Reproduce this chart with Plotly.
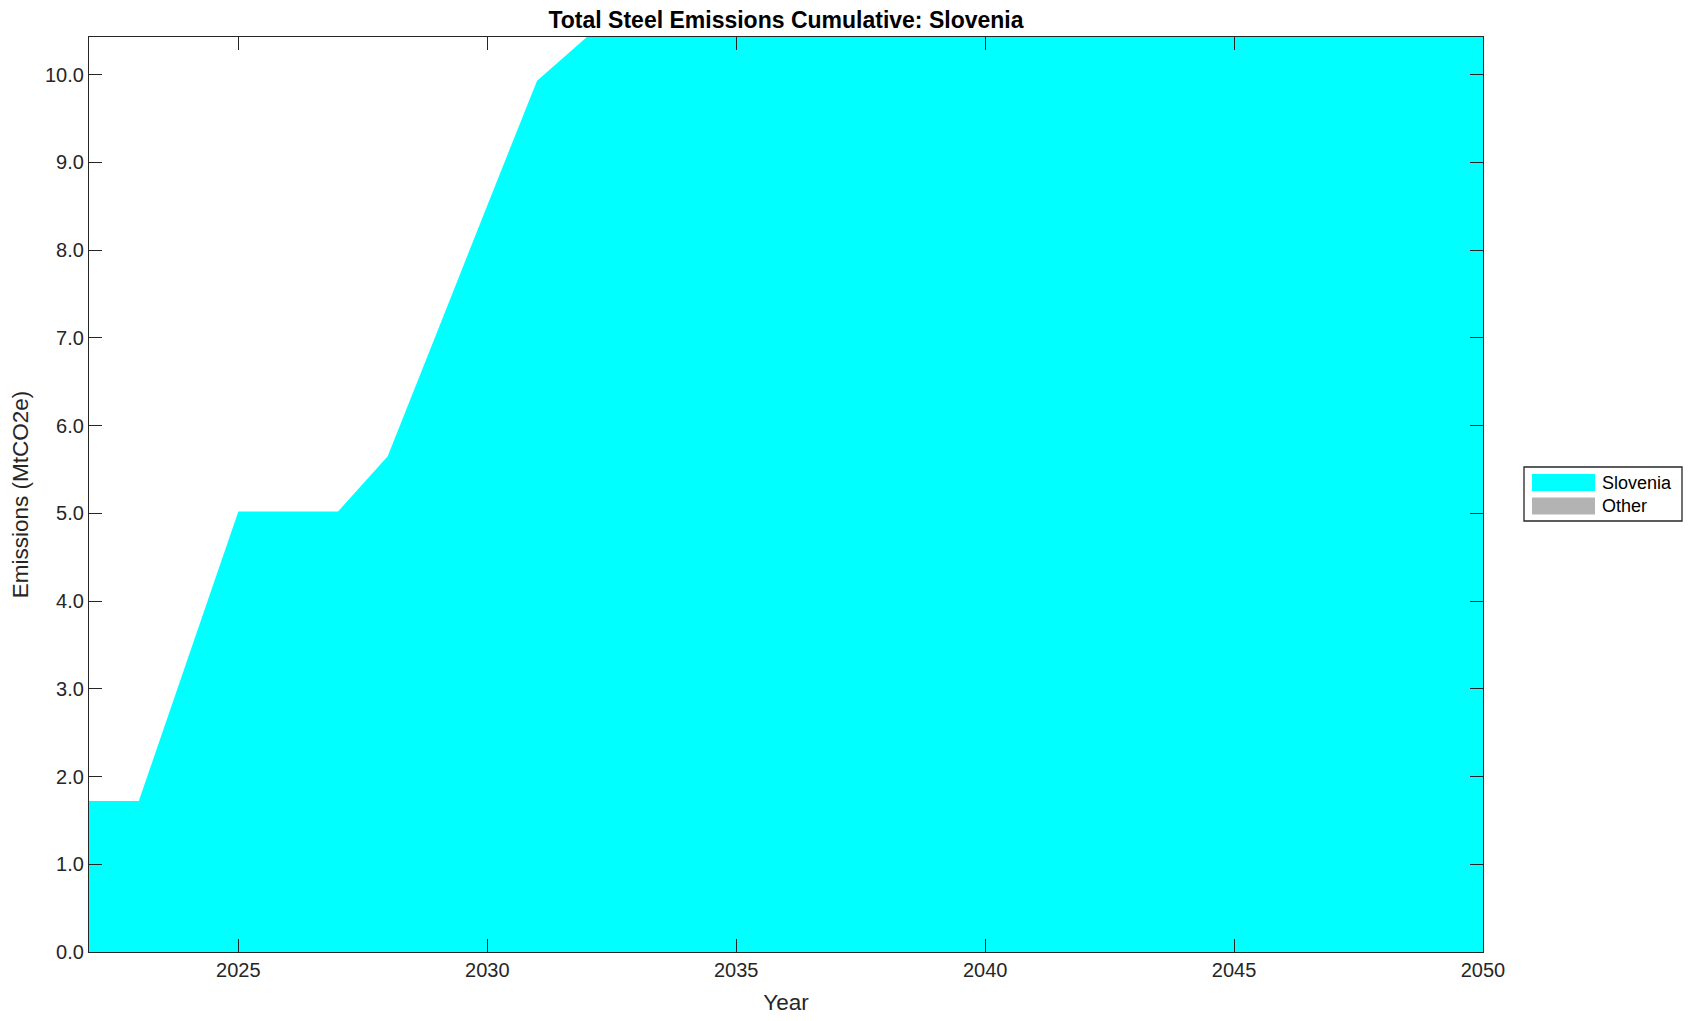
import plotly.graph_objects as go

years = list(range(2022, 2051))
slovenia = [1.72, 1.72, 3.37, 5.02, 5.02, 5.02, 5.65, 7.08, 8.51, 9.93] + [10.43] * 19
other = [0.0] * len(years)

x_ticks = [2025, 2030, 2035, 2040, 2045, 2050]
y_ticks = [0, 1, 2, 3, 4, 5, 6, 7, 8, 9, 10]

FONT = "Liberation Sans, Arial, Helvetica, sans-serif"
INK = "#262626"
CYAN = "#00FFFF"
GRAY = "#B3B3B3"

fig = go.Figure()
fig.add_trace(go.Scatter(x=years, y=slovenia, name="Slovenia", stackgroup="one",
                         mode="none", fillcolor=CYAN, line=dict(width=0)))
fig.add_trace(go.Scatter(x=years, y=other, name="Other", stackgroup="one",
                         mode="none", fillcolor=GRAY, line=dict(width=0)))

# page has an 8px body margin, so figure coordinates are page coordinates - 8
W, H = 1684, 1013
L, R, T, B = 81, 1475, 29, 944

fig.update_layout(
    width=W, height=H,
    margin=dict(l=L, r=W - R, t=T, b=H - B, autoexpand=False),
    paper_bgcolor="white", plot_bgcolor="white",
    showlegend=False,
    font=dict(family=FONT, size=20, color=INK),
    title=dict(text="<b>Total Steel Emissions Cumulative: Slovenia</b>",
               x=(L + R) / 2 / W, xanchor="center", xref="container",
               y=1 - 12 / H, yanchor="middle", yref="container",
               font=dict(family=FONT, size=23, color="black")),
)

fig.update_xaxes(range=[2022, 2050], tickvals=x_ticks, ticktext=[str(v) for v in x_ticks],
                 ticks="inside", ticklen=13, tickwidth=1.3, tickcolor=INK,
                 showline=True, linecolor=INK, linewidth=1.3, mirror="ticks",
                 showgrid=False, zeroline=False,
                 tickfont=dict(size=20, color=INK),
                 title=dict(text="Year", font=dict(size=22.5, color=INK), standoff=14))
fig.update_yaxes(range=[0, 10.43], tickvals=y_ticks, ticktext=[f"{v:.1f}" for v in y_ticks],
                 ticks="inside", ticklen=13, tickwidth=1.3, tickcolor=INK,
                 showline=True, linecolor=INK, linewidth=1.3, mirror="ticks",
                 showgrid=False, zeroline=False,
                 tickfont=dict(size=20, color=INK),
                 title=dict(text="Emissions (MtCO2e)", font=dict(size=22.5, color=INK), standoff=13))

# legend drawn in pixel space on the right margin
def fx(p):
    return (p - L) / (R - L)
def fy(p):
    return (B - p) / (B - T)

fig.add_shape(type="rect", xref="paper", yref="paper",
              x0=fx(1516), x1=fx(1674), y0=fy(513), y1=fy(459),
              line=dict(color=INK, width=1.3), fillcolor="white")
entries = [("Slovenia", CYAN, 474.5), ("Other", GRAY, 498)]
for name, col, yc in entries:
    fig.add_shape(type="rect", xref="paper", yref="paper",
                  x0=fx(1524), x1=fx(1587), y0=fy(yc + 8.5), y1=fy(yc - 8.5),
                  line=dict(width=0), fillcolor=col)
    fig.add_annotation(text=name, xref="paper", yref="paper",
                       x=fx(1592), y=fy(yc),
                       xanchor="left", yanchor="middle", showarrow=False,
                       font=dict(family=FONT, size=18, color="black"))

fig.write_html("out.html")
